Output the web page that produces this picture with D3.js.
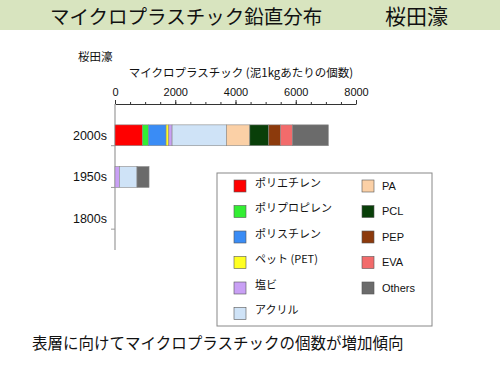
<!DOCTYPE html>
<html>
<head>
<meta charset="utf-8">
<script src="https://cdn.jsdelivr.net/npm/d3@7"></script>
<style>
  body { margin: 0; background: #fff; }
  text { font-family: "Liberation Sans", Arial, "Noto Sans CJK JP", sans-serif; fill: #111; }
  .jp { font-family: "Noto Sans CJK JP", "Liberation Sans", sans-serif; }
</style>
</head>
<body>
<div id="chart"></div>
<script>
// 層ごとのマイクロプラスチック個数 (泥1kgあたり)
const periods = ["2000s", "1950s", "1800s"];
const polymers = ["ポリエチレン", "ポリプロピレン", "ポリスチレン", "ペット (PET)", "塩ビ", "アクリル",
  "PA", "PCL", "PEP", "EVA", "Others"];
const colors = ["#ff0000", "#33ee33", "#3a8cf5", "#ffff22", "#c9a0f5", "#cfe3f7",
  "#fbd0a6", "#093f09", "#8c3a0c", "#f26b6b", "#6b6b6b"];
const counts2000s = [910, 200, 585, 90, 110, 1805, 775, 630, 390, 400, 1185];
const counts1950s = [0, 0, 0, 0, 145, 585, 0, 0, 0, 0, 400];
const counts1800s = [0, 0, 0, 0, 0, 0, 0, 0, 0, 0, 0];
const xTicks = [0, 2000, 4000, 6000, 8000];

const width = 500, height = 375;
const svg = d3.select("#chart").append("svg")
  .attr("width", width)
  .attr("height", height);

// タイトル帯
svg.append("rect").attr("x", 0).attr("y", 0).attr("width", width).attr("height", 30)
  .attr("fill", "#d8e4bf");
svg.append("text").attr("class", "jp").attr("x", 50).attr("y", 24)
  .style("font-size", "19.5px").text("マイクロプラスチック鉛直分布");
svg.append("text").attr("class", "jp").attr("x", 385).attr("y", 24)
  .style("font-size", "21px").text("桜田濠");

const table = periods.map((p, i) => {
  const row = { period: p };
  const vals = [counts2000s, counts1950s, counts1800s][i];
  polymers.forEach((k, j) => { row[k] = vals[j]; });
  return row;
});

const x = d3.scaleLinear().domain([0, 8000]).range([115, 356]);
const y = d3.scaleBand().domain(periods).range([104, 250]).padding(0.5);

// x軸 (上側)
svg.append("g")
  .attr("transform", "translate(0,104)")
  .call(d3.axisTop(x).tickValues(d3.range(0, 8001, 500)).tickSize(2).tickFormat(""))
  .call(g => g.select(".domain").remove())
  .selectAll("line").attr("stroke", "#333");
const xAxis = svg.append("g")
  .attr("transform", "translate(0,104)")
  .call(d3.axisTop(x).tickValues(xTicks).tickSize(4).tickPadding(4)
    .tickSizeOuter(0).tickFormat(d3.format("d")));
xAxis.select(".domain").attr("stroke", "#333");
xAxis.selectAll("line").attr("stroke", "#333");
xAxis.selectAll("text").style("font-size", "11px").attr("fill", "#111")
  .style("font-family", "Liberation Sans, Arial, sans-serif");

// y軸
const step = y.step();
const yAxis = svg.append("g").attr("transform", "translate(115,0)");
yAxis.append("line").attr("x1", 0).attr("x2", 0).attr("y1", 104).attr("y2", 250)
  .attr("stroke", "#9a9a9a").attr("stroke-width", 1.2);
yAxis.selectAll("line.tick").data(periods).enter().append("line")
  .attr("class", "tick")
  .attr("x1", -4).attr("x2", 0)
  .attr("y1", d => y(d) - y.paddingOuter() * step + step)
  .attr("y2", d => y(d) - y.paddingOuter() * step + step)
  .attr("stroke", "#9a9a9a");
yAxis.selectAll("text").data(periods).enter().append("text")
  .attr("x", -8).attr("y", d => y(d) + y.bandwidth() / 2)
  .attr("dy", "0.35em").attr("text-anchor", "end")
  .style("font-size", "12.5px").text(d => d);

// 積み上げ棒
const stacked = d3.stack().keys(polymers)(table);
svg.append("g").selectAll("g").data(stacked).enter().append("g")
  .attr("fill", (d, i) => colors[i])
  .selectAll("rect").data(d => d.filter(s => s[1] > s[0])).enter().append("rect")
  .attr("x", d => x(d[0]))
  .attr("y", d => y(d.data.period))
  .attr("width", d => x(d[1]) - x(d[0]))
  .attr("height", y.bandwidth())
  .attr("stroke", "#888")
  .attr("stroke-width", 0.6);

// 軸タイトル
svg.append("text").attr("class", "jp").attr("x", 78).attr("y", 61)
  .style("font-size", "11.5px").text("桜田濠");
svg.append("text").attr("class", "jp").attr("x", 241).attr("y", 77)
  .attr("text-anchor", "middle").style("font-size", "11.5px")
  .text("マイクロプラスチック (泥1kgあたりの個数)");

// 凡例
const legend = svg.append("g");
legend.append("rect").attr("x", 217).attr("y", 173).attr("width", 215).attr("height", 153)
  .attr("fill", "#fff").attr("stroke", "#888");
const items = legend.selectAll("g.item").data(polymers).enter().append("g")
  .attr("class", "item")
  .attr("transform", (d, i) => {
    const col = i < 6 ? 0 : 1;
    const row = i < 6 ? i : i - 6;
    return "translate(" + (col ? 362 : 234) + "," + (186 + row * 25.5) + ")";
  });
items.append("rect").attr("x", 0).attr("y", -6).attr("width", 12).attr("height", 12)
  .attr("fill", (d, i) => colors[i]).attr("stroke", "#555").attr("stroke-width", 0.6);
items.append("text")
  .attr("class", (d, i) => i < 6 ? "jp" : "")
  .attr("x", (d, i) => i < 6 ? 21 : 20)
  .attr("y", (d, i) => i < 6 ? -3 : 0)
  .attr("dy", "0.35em")
  .style("font-size", "11px").text(d => d);

// まとめ
svg.append("text").attr("class", "jp").attr("x", 32).attr("y", 349)
  .style("font-size", "15.5px").text("表層に向けてマイクロプラスチックの個数が増加傾向");
</script>
</body>
</html>
